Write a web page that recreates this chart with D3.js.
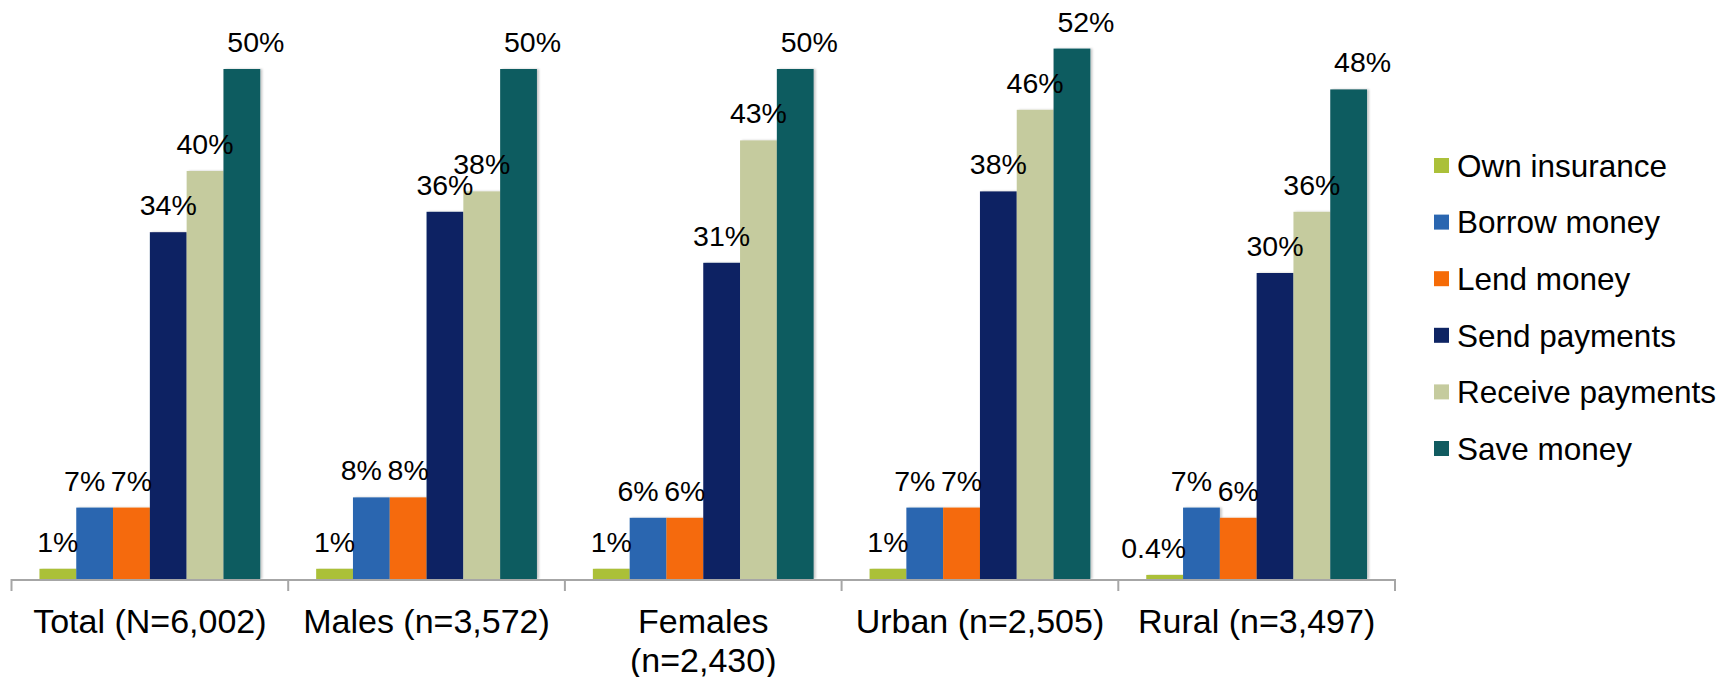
<!DOCTYPE html>
<html>
<head>
<meta charset="utf-8">
<script src="https://cdn.jsdelivr.net/npm/d3@7"></script>
<style>
  html, body { margin: 0; padding: 0; background: #ffffff; }
  svg { display: block; font-family: "Liberation Sans", Arial, Helvetica, sans-serif; }
</style>
</head>
<body>
<svg id="chart" width="1723" height="677"></svg>
<script>
// Groups shown along the x axis
const categories = ["Total (N=6,002)", "Males (n=3,572)", "Females (n=2,430)", "Urban (n=2,505)", "Rural (n=3,497)"];

// Mobile money uses, one bar per use inside each group
const series = ["Own insurance", "Borrow money", "Lend money", "Send payments", "Receive payments", "Save money"];

// Share of respondents (%) per use, in category order
const ownInsurance    = [1, 1, 1, 1, 0.4];
const borrowMoney     = [7, 8, 6, 7, 7];
const lendMoney       = [7, 8, 6, 7, 6];
const sendPayments    = [34, 36, 31, 38, 30];
const receivePayments = [40, 38, 43, 46, 36];
const saveMoney       = [50, 50, 50, 52, 48];

const seriesValues = [ownInsurance, borrowMoney, lendMoney, sendPayments, receivePayments, saveMoney];
const colors = ["#abc039", "#2a66b0", "#f56b07", "#0e2463", "#c5cb9e", "#115b60"];

// Horizontal nudges for data labels that would otherwise collide
const labelDx = { "Borrow money": -10, "Save money": 14 };

const svg = d3.select("#chart");

const x0 = d3.scaleBand().domain(categories).range([11.5, 1395]).padding(0);
const x1 = d3.scaleBand().domain(series).range([0, x0.bandwidth()]).paddingInner(0).paddingOuter(0.76);
const y = d3.scaleLinear().domain([0, 55]).range([579, 18]);
const color = d3.scaleOrdinal().domain(series).range(colors);

// Soft shadow on the bars
const defs = svg.append("defs");
const f = defs.append("filter").attr("id", "barShadow").attr("x", "-20%").attr("y", "-5%").attr("width", "150%").attr("height", "110%");
f.append("feDropShadow").attr("dx", 2).attr("dy", 0).attr("stdDeviation", 1.2).attr("flood-color", "#000").attr("flood-opacity", 0.22);

const rows = [];
categories.forEach((c, ci) => {
  series.forEach((s, si) => {
    rows.push({ category: c, series: s, value: seriesValues[si][ci] });
  });
});

const groups = svg.append("g").selectAll("g")
  .data(categories)
  .join("g")
  .attr("transform", d => `translate(${x0(d)},0)`);

groups.selectAll("rect")
  .data(c => rows.filter(r => r.category === c))
  .join("rect")
  .attr("x", d => x1(d.series))
  .attr("y", d => y(d.value))
  .attr("width", x1.bandwidth())
  .attr("height", d => y(0) - y(d.value))
  .attr("fill", d => color(d.series))
  .attr("filter", "url(#barShadow)");

// Data labels
function fmt(v) { return (v < 1 ? v.toString() : d3.format("d")(v)) + "%"; }
groups.selectAll("text.val")
  .data(c => rows.filter(r => r.category === c))
  .join("text")
  .attr("class", "val")
  .attr("x", d => {
    let dx = labelDx[d.series] || 0;
    if (d.value < 1) dx = -11;
    return x1(d.series) + x1.bandwidth() / 2 + dx;
  })
  .attr("y", d => y(d.value) - 17)
  .attr("text-anchor", "middle")
  .attr("font-size", 28.5)
  .attr("fill", "#000")
  .text(d => fmt(d.value));

// Category axis: baseline, boundary ticks and wrapped labels
const axis = svg.append("g");
axis.append("line")
  .attr("x1", x0.range()[0]).attr("x2", x0.range()[1])
  .attr("y1", y(0) + 1).attr("y2", y(0) + 1)
  .attr("stroke", "#a6a6a6").attr("stroke-width", 2);

const bounds = categories.map(c => x0(c)).concat([x0.range()[1]]);
axis.selectAll("line.tick")
  .data(bounds)
  .join("line")
  .attr("class", "tick")
  .attr("x1", d => d).attr("x2", d => d)
  .attr("y1", y(0)).attr("y2", y(0) + 12)
  .attr("stroke", "#a6a6a6").attr("stroke-width", 2);

const labelFont = 34;
const measure = svg.append("text").attr("font-size", labelFont).attr("visibility", "hidden");
function wrapLines(text, width) {
  const words = text.split(" ");
  const lines = [];
  let line = [];
  words.forEach(w => {
    const test = line.concat([w]).join(" ");
    measure.text(test);
    if (measure.node().getComputedTextLength() > width && line.length) {
      lines.push(line.join(" "));
      line = [w];
    } else {
      line.push(w);
    }
  });
  if (line.length) lines.push(line.join(" "));
  return lines;
}

axis.selectAll("text.cat")
  .data(categories)
  .join("text")
  .attr("class", "cat")
  .attr("text-anchor", "middle")
  .attr("font-size", labelFont)
  .attr("fill", "#000")
  .each(function (d) {
    const t = d3.select(this);
    const cx = x0(d) + x0.bandwidth() / 2;
    wrapLines(d, x0.bandwidth() - 4).forEach((ln, i) => {
      t.append("tspan").attr("x", cx).attr("y", 633 + i * 39).text(ln);
    });
  });
measure.remove();

// Legend
const legend = svg.append("g").attr("transform", "translate(1434,0)");
const legendItems = legend.selectAll("g")
  .data(series)
  .join("g")
  .attr("transform", (d, i) => `translate(0,${165.5 + i * 56.6})`);
legendItems.append("rect")
  .attr("x", 0).attr("y", -7.5)
  .attr("width", 15).attr("height", 15)
  .attr("fill", d => color(d));
legendItems.append("text")
  .attr("x", 23).attr("y", 11.3)
  .attr("font-size", 31.5)
  .attr("fill", "#000")
  .text(d => d);
</script>
</body>
</html>
